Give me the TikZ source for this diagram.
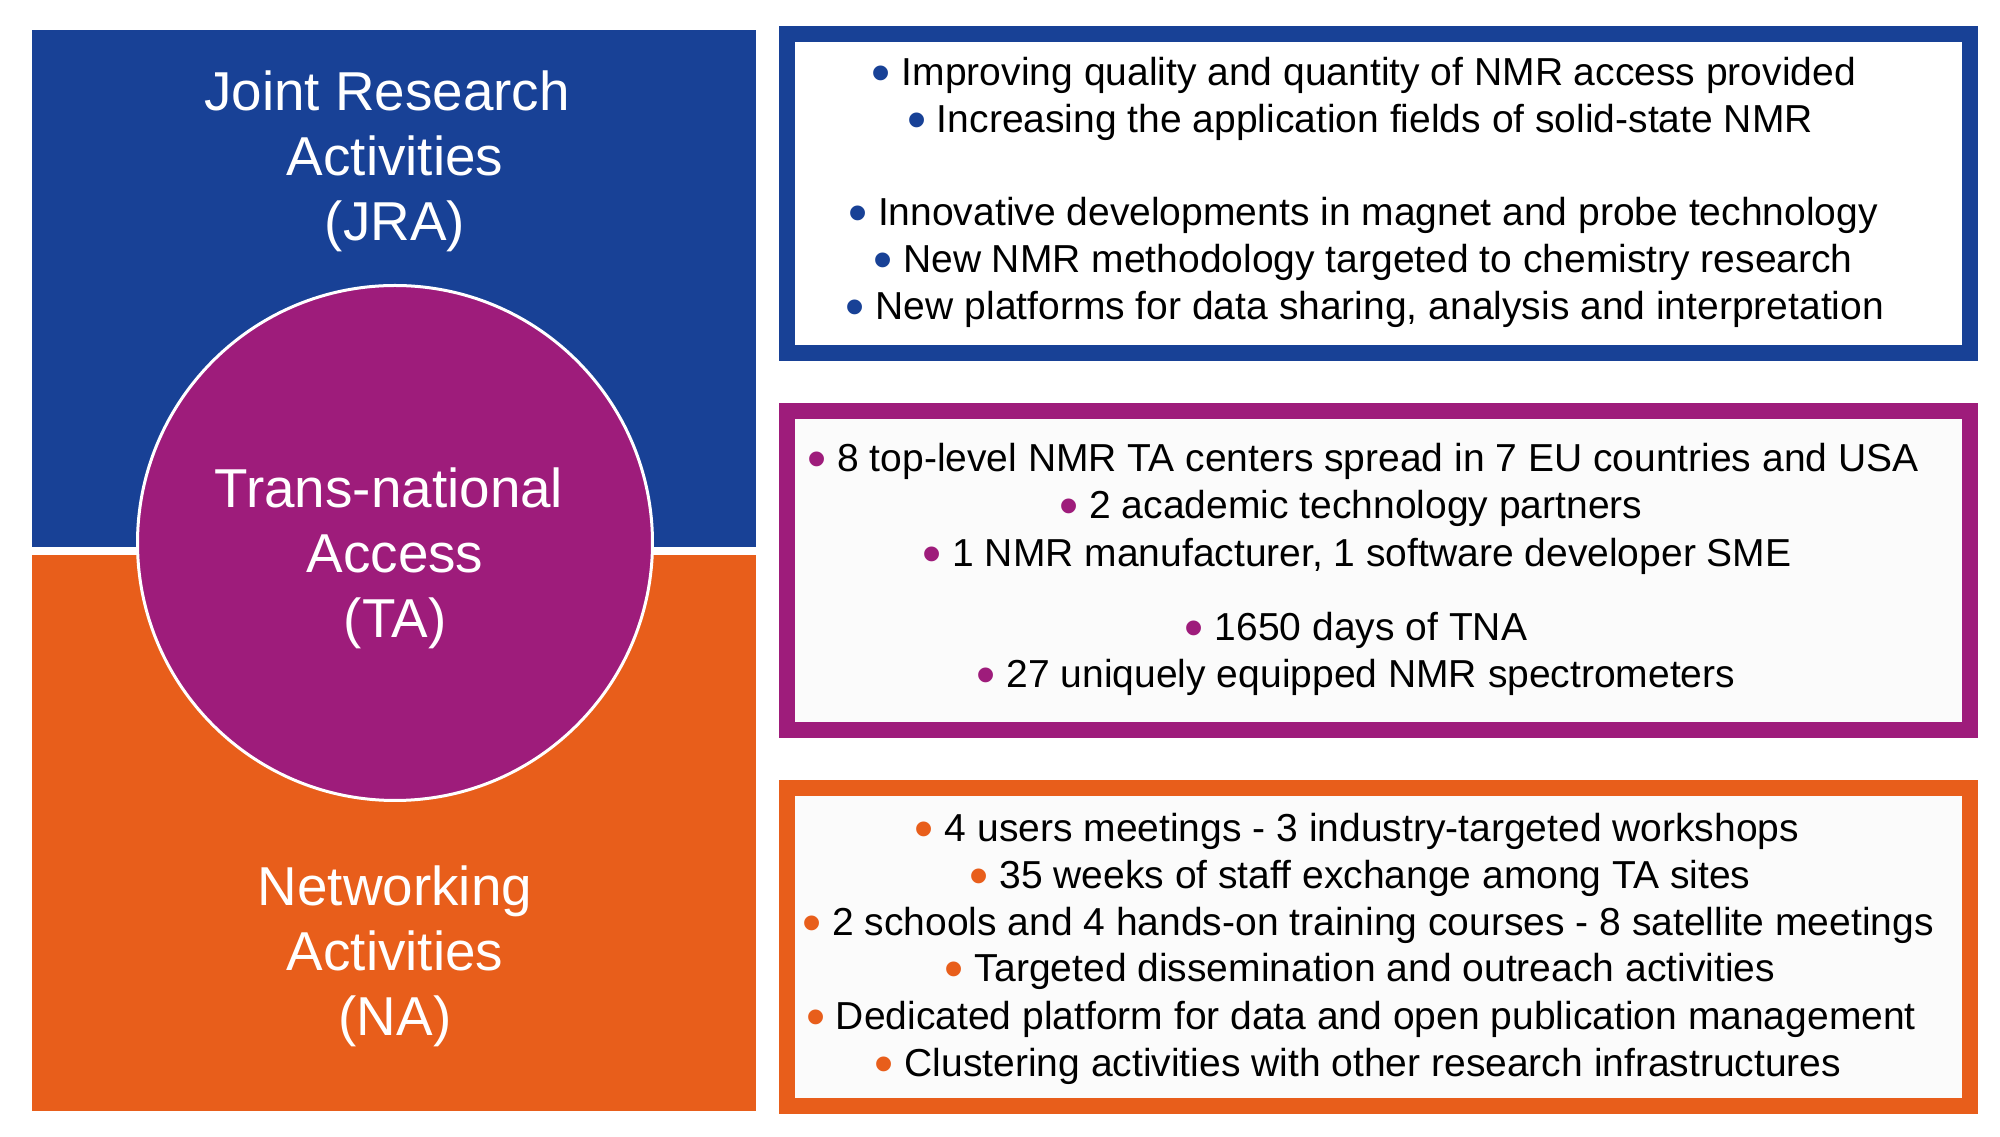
\documentclass[tikz,border=0pt]{standalone}
\usepackage{fontspec}
\setmainfont{Liberation Sans}
\usetikzlibrary{positioning}
\definecolor{jrablue}{RGB}{24,65,150}
\definecolor{tapurple}{RGB}{158,28,123}
\definecolor{naorange}{RGB}{232,94,27}
\definecolor{boxfill}{RGB}{251,251,251}
\tikzset{
  biglabel/.style={text=white, align=center, inner sep=0pt, font=\fontsize{15.6}{18.5}\selectfont},
  itemline/.style={anchor=base, text=black, inner sep=0pt, font=\fontsize{11.1}{13}\selectfont},
  listbox/.style={line width=1.6mm, fill=boxfill},
}
\newcommand{\bul}[1]{\textcolor{#1}{\raisebox{-0.14em}{\scalebox{1.4}{\textbullet}}}\ }

\begin{document}
\begin{tikzpicture}[x=0.1mm, y=-0.1mm]
  \useasboundingbox (0,0) rectangle (2000,1137);

  % Left blocks
  \fill[jrablue] (32,30) rectangle (756,547);
  \fill[naorange] (32,555) rectangle (756,1111);
  \node[circle, fill=tapurple, draw=white, line width=0.3mm, minimum size=51.5mm, inner sep=0pt] (ta) at (395,543) {};
  \node[biglabel] (jra) at (395,161) {Joint Research\hspace*{1.6mm}\\Activities\\(JRA)};
  \node[biglabel] (talabel) at (395,558) {Trans-national\hspace*{1.2mm}\\Access\\(TA)};
  \node[biglabel] (na) at (395,956) {Networking\\Activities\\(NA)};

  % JRA box
  \draw[listbox, draw=jrablue, fill=white] (787,34) rectangle (1970,353);
  \foreach \x/\y/\t [count=\i] in {
      1364/86/{Improving quality and quantity of NMR access provided},
      1360/133/{Increasing the application fields of solid-state NMR},
      1363/226/{Innovative developments in magnet and probe technology},
      1363/273/{New NMR methodology targeted to chemistry research},
      1365/320/{New platforms for data sharing, analysis and interpretation}}
    \node[itemline] (jraitem\i) at (\x,\y) {\bul{jrablue}\t};

  % TA box
  \draw[listbox, draw=tapurple] (787,411) rectangle (1970,730);
  \foreach \x/\y/\t [count=\i] in {
      1363/472/{8 top-level NMR TA centers spread in 7 EU countries and USA},
      1351/519/{2 academic technology partners},
      1357/567/{1 NMR manufacturer, 1 software developer SME},
      1356/641/{1650 days of TNA},
      1356/688/{27 uniquely equipped NMR spectrometers}}
    \node[itemline] (taitem\i) at (\x,\y) {\bul{tapurple}\t};

  % NA box
  \draw[listbox, draw=naorange] (787,788) rectangle (1970,1106);
  \foreach \x/\y/\t [count=\i] in {
      1357/842/{4 users meetings - 3 industry-targeted workshops},
      1360/889/{35 weeks of staff exchange among TA sites},
      1368/936/{2 schools and 4 hands-on training courses - 8 satellite meetings},
      1360/982/{Targeted dissemination and outreach activities},
      1361/1030/{Dedicated platform for data and open publication management},
      1358/1077/{Clustering activities with other research infrastructures}}
    \node[itemline] (naitem\i) at (\x,\y) {\bul{naorange}\t};
\end{tikzpicture}
\end{document}
